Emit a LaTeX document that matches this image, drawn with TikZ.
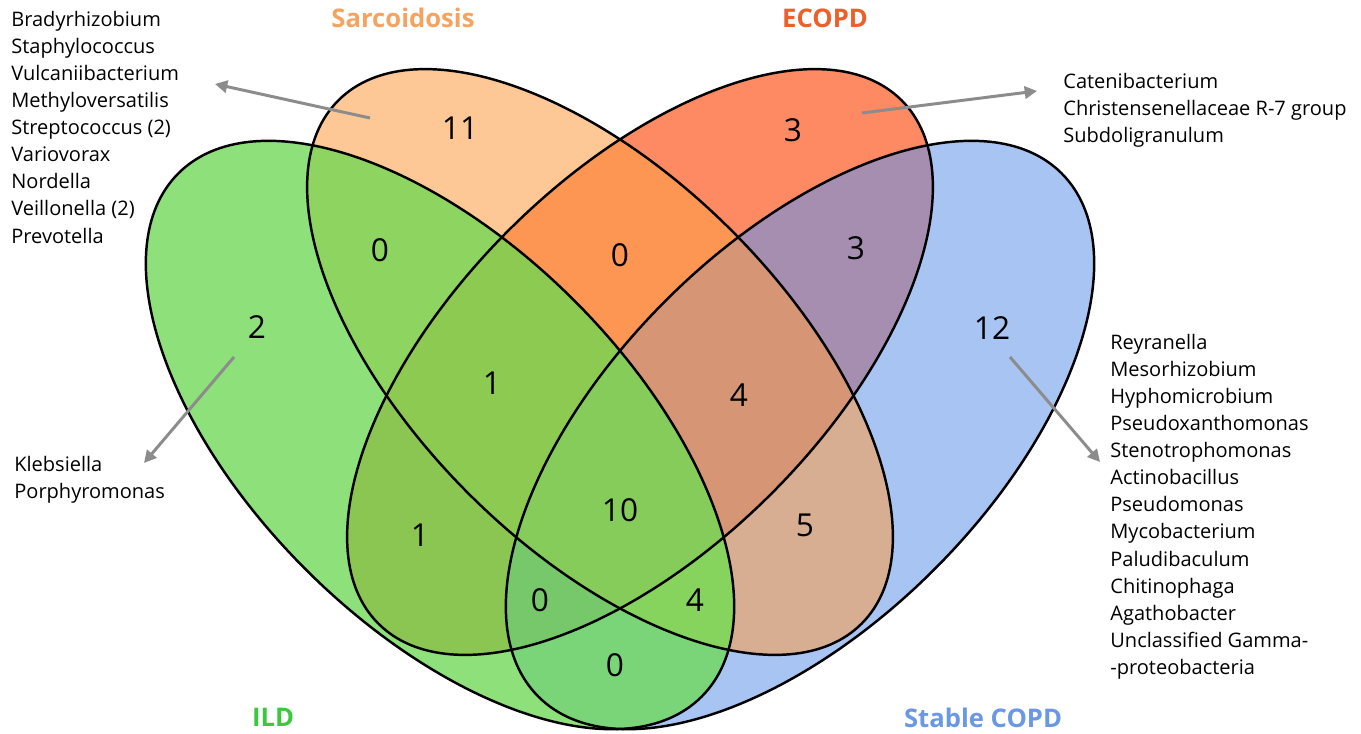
\documentclass[tikz,border=0pt]{standalone}
\usepackage{fontspec}
\setmainfont{Open Sans}
\usetikzlibrary{arrows.meta, positioning}
\definecolor{IldOnly}{HTML}{8EE07A}
\definecolor{SarcOnly}{HTML}{FDC896}
\definecolor{EcopdOnly}{HTML}{FD8A62}
\definecolor{StableOnly}{HTML}{A8C4F2}
\definecolor{IldSarc}{HTML}{8DD560}
\definecolor{IldEcopd}{HTML}{8CC652}
\definecolor{IldStable}{HTML}{7AD478}
\definecolor{SarcEcopd}{HTML}{FD9652}
\definecolor{SarcStable}{HTML}{D8AE92}
\definecolor{EcopdStable}{HTML}{A68EB0}
\definecolor{IldSarcEcopd}{HTML}{8DCA52}
\definecolor{IldSarcStable}{HTML}{86D35E}
\definecolor{IldEcopdStable}{HTML}{76C86A}
\definecolor{SarcEcopdStable}{HTML}{D69676}
\definecolor{AllFour}{HTML}{86CC5A}
\definecolor{IldTitle}{HTML}{3CC83C}
\definecolor{SarcTitle}{HTML}{F4A460}
\definecolor{EcopdTitle}{HTML}{EE5F2A}
\definecolor{StableTitle}{HTML}{6A98E4}
\definecolor{ArrowGrey}{HTML}{8C8C8C}

\newcommand{\ildclip}{\clip[rotate around={-45:(440,435)}] (440,435) ellipse [x radius=370, y radius=190];}
\newcommand{\sarcclip}{\clip[rotate around={-45:(600,362)}] (600,362) ellipse [x radius=370, y radius=186];}
\newcommand{\ecopdclip}{\clip[rotate around={45:(640,362)}] (640,362) ellipse [x radius=370, y radius=186];}
\newcommand{\stableclip}{\clip[rotate around={45:(800,435)}] (800,435) ellipse [x radius=370, y radius=190];}
\newcommand{\paintregion}[2]{\begin{scope}#1\fill[#2] (0,0) rectangle (1361,733);\end{scope}}

\tikzset{
    ring/.style={draw=black, line width=1.4pt},
    regnum/.style={font=\fontsize{18}{18}\selectfont, inner sep=0pt},
    settitle/.style={font=\fontsize{14.6}{14.6}\selectfont\bfseries, inner sep=0pt},
    taxa/.style={align=left, anchor=north west, inner sep=0pt, font=\fontsize{11.4}{15.4}\selectfont},
    pointer/.style={draw=ArrowGrey, line width=1.7pt, -{Triangle[length=7pt, width=7pt]}}
}

\begin{document}
\begin{tikzpicture}[x=0.02cm, y=-0.02cm]
    \useasboundingbox (0,0) rectangle (1361,733);

    \paintregion{\ildclip}{IldOnly}
    \paintregion{\sarcclip}{SarcOnly}
    \paintregion{\ecopdclip}{EcopdOnly}
    \paintregion{\stableclip}{StableOnly}
    \paintregion{\ildclip\sarcclip}{IldSarc}
    \paintregion{\ildclip\ecopdclip}{IldEcopd}
    \paintregion{\ildclip\stableclip}{IldStable}
    \paintregion{\sarcclip\ecopdclip}{SarcEcopd}
    \paintregion{\sarcclip\stableclip}{SarcStable}
    \paintregion{\ecopdclip\stableclip}{EcopdStable}
    \paintregion{\ildclip\sarcclip\ecopdclip}{IldSarcEcopd}
    \paintregion{\ildclip\sarcclip\stableclip}{IldSarcStable}
    \paintregion{\ildclip\ecopdclip\stableclip}{IldEcopdStable}
    \paintregion{\sarcclip\ecopdclip\stableclip}{SarcEcopdStable}
    \paintregion{\ildclip\sarcclip\ecopdclip\stableclip}{AllFour}

    \draw[ring, rotate around={-45:(440,435)}] (440,435) ellipse [x radius=370, y radius=190];
    \draw[ring, rotate around={-45:(600,362)}] (600,362) ellipse [x radius=370, y radius=186];
    \draw[ring, rotate around={45:(640,362)}] (640,362) ellipse [x radius=370, y radius=186];
    \draw[ring, rotate around={45:(800,435)}] (800,435) ellipse [x radius=370, y radius=190];

    \node[settitle, text=SarcTitle] (sarcName) at (403,18) {Sarcoidosis};
    \node[settitle, text=EcopdTitle] (ecopdName) at (825,18) {ECOPD};
    \node[settitle, text=IldTitle] (ildName) at (273,717) {ILD};
    \node[settitle, text=StableTitle] (stableName) at (983,718) {Stable COPD};

    \node[regnum] (nSarc) at (460,128) {11};
    \node[regnum] (nEcopd) at (793,130) {3};
    \node[regnum] (nIldSarc) at (380,250) {0};
    \node[regnum] (nSarcEcopd) at (620,255) {0};
    \node[regnum] (nEcopdStable) at (856,248) {3};
    \node[regnum] (nIld) at (257,327) {2};
    \node[regnum] (nStable) at (992,328) {12};
    \node[regnum] (nIldSarcEcopd) at (492,383) {1};
    \node[regnum] (nSarcEcopdStable) at (739,395) {4};
    \node[regnum] (nAll) at (620,510) {10};
    \node[regnum] (nIldEcopd) at (420,535) {1};
    \node[regnum] (nSarcStable) at (805,525) {5};
    \node[regnum] (nIldEcopdStable) at (540,600) {0};
    \node[regnum] (nIldSarcStable) at (695,600) {4};
    \node[regnum] (nIldStable) at (615,665) {0};

    \node[taxa] (sarcList) at (11,11) {Bradyrhizobium\\Staphylococcus\\Vulcaniibacterium\\Methyloversatilis\\Streptococcus (2)\\Variovorax\\Nordella\\Veillonella (2)\\Prevotella};
    \node[taxa] (ecopdList) at (1063,73) {Catenibacterium\\Christensenellaceae R-7 group\\Subdoligranulum};
    \node[taxa] (ildList) at (14,456) {Klebsiella\\Porphyromonas};
    \node[taxa] (stableList) at (1110,334) {Reyranella\\Mesorhizobium\\Hyphomicrobium\\Pseudoxanthomonas\\Stenotrophomonas\\Actinobacillus\\Pseudomonas\\Mycobacterium\\Paludibaculum\\Chitinophaga\\Agathobacter\\Unclassified Gamma-\\-proteobacteria};

    \coordinate (sarcFrom) at (370,118);
    \coordinate (sarcTo) at (215,84);
    \coordinate (ecopdFrom) at (862,113);
    \coordinate (ecopdTo) at (1037,91);
    \coordinate (ildFrom) at (234,357);
    \coordinate (ildTo) at (144,463);
    \coordinate (stableFrom) at (1010,357);
    \coordinate (stableTo) at (1100,462);
    \draw[pointer] (sarcFrom) -- (sarcTo);
    \draw[pointer] (ecopdFrom) -- (ecopdTo);
    \draw[pointer] (ildFrom) -- (ildTo);
    \draw[pointer] (stableFrom) -- (stableTo);
\end{tikzpicture}
\end{document}
